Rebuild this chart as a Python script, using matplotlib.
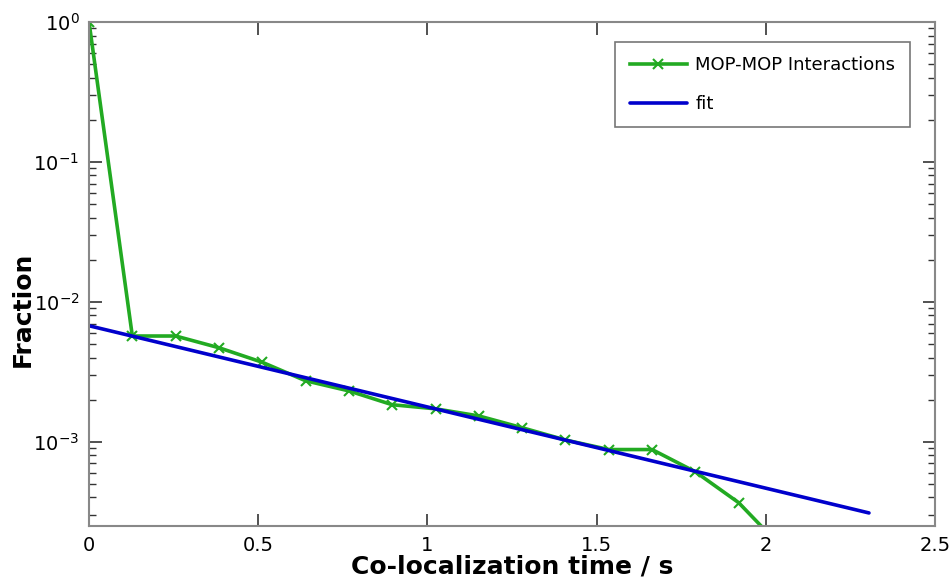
import matplotlib
matplotlib.use('Agg')
import matplotlib.pyplot as plt
from matplotlib.ticker import LogLocator, NullFormatter

# Co-localization histogram (fraction of events per time bin)
time_s = [0, 0.128, 0.256, 0.384, 0.512, 0.64, 0.768, 0.896, 1.024,
          1.152, 1.28, 1.408, 1.536, 1.664, 1.792, 1.92, 2.048]
fraction = [1.0, 5.7e-3, 5.7e-3, 4.7e-3, 3.7e-3, 2.73e-3, 2.31e-3, 1.84e-3,
            1.72e-3, 1.53e-3, 1.26e-3, 1.03e-3, 8.8e-4, 8.8e-4, 6.1e-4,
            3.67e-4, 1.75e-4]

# Exponential fit (straight on log axis) - end points
fit_t = [0, 2.305]
fit_y = [6.75e-3, 3.1e-4]

x_ticks = [0, 0.5, 1, 1.5, 2, 2.5]
x_ticklabels = ['0', '0.5', '1', '1.5', '2', '2.5']

fig = plt.figure(figsize=(9.49, 5.79), dpi=100)
ax = fig.add_axes([0.0938, 0.0915, 0.8914, 0.8705])

ax.plot(time_s, fraction, color='#22aa22', lw=2.6, marker='x', ms=7,
        mew=1.5, label='MOP-MOP Interactions')
ax.plot(fit_t, fit_y, color='#0000cc', lw=2.6, label='fit',
        solid_capstyle='round')

ax.set_yscale('log')
ax.set_xlim(0, 2.5)
ax.set_ylim(2.5e-4, 1.0)

ax.set_xticks(x_ticks)
ax.set_xticklabels(x_ticklabels)
ax.yaxis.set_major_locator(LogLocator(base=10, numticks=10))
ax.yaxis.set_minor_locator(LogLocator(base=10, subs=range(2, 10), numticks=10))
ax.yaxis.set_minor_formatter(NullFormatter())

ax.tick_params(which='both', direction='in', top=True, right=True,
               colors='#333333', labelcolor='black', labelsize=14, pad=7)
ax.tick_params(which='major', length=9, width=1.2)
ax.tick_params(which='minor', length=5, width=1.0)

for sp in ax.spines.values():
    sp.set_color('#888888')
    sp.set_linewidth(1.5)

ax.set_xlabel('Co-localization time / s', fontsize=18, fontweight='bold',
              labelpad=0)
ax.set_ylabel('Fraction', fontsize=18, fontweight='bold', labelpad=4)
ax.yaxis.set_label_coords(-0.064, 0.43)

leg = ax.legend(loc='upper right', bbox_to_anchor=(0.9704, 0.961),
                borderaxespad=0, fontsize=13, fancybox=False,
                framealpha=1, edgecolor='#777777', handlelength=3.2,
                borderpad=0.8, labelspacing=1.15, handletextpad=0.45)
leg.get_frame().set_linewidth(1.2)

fig.savefig('out.png', dpi=100)
